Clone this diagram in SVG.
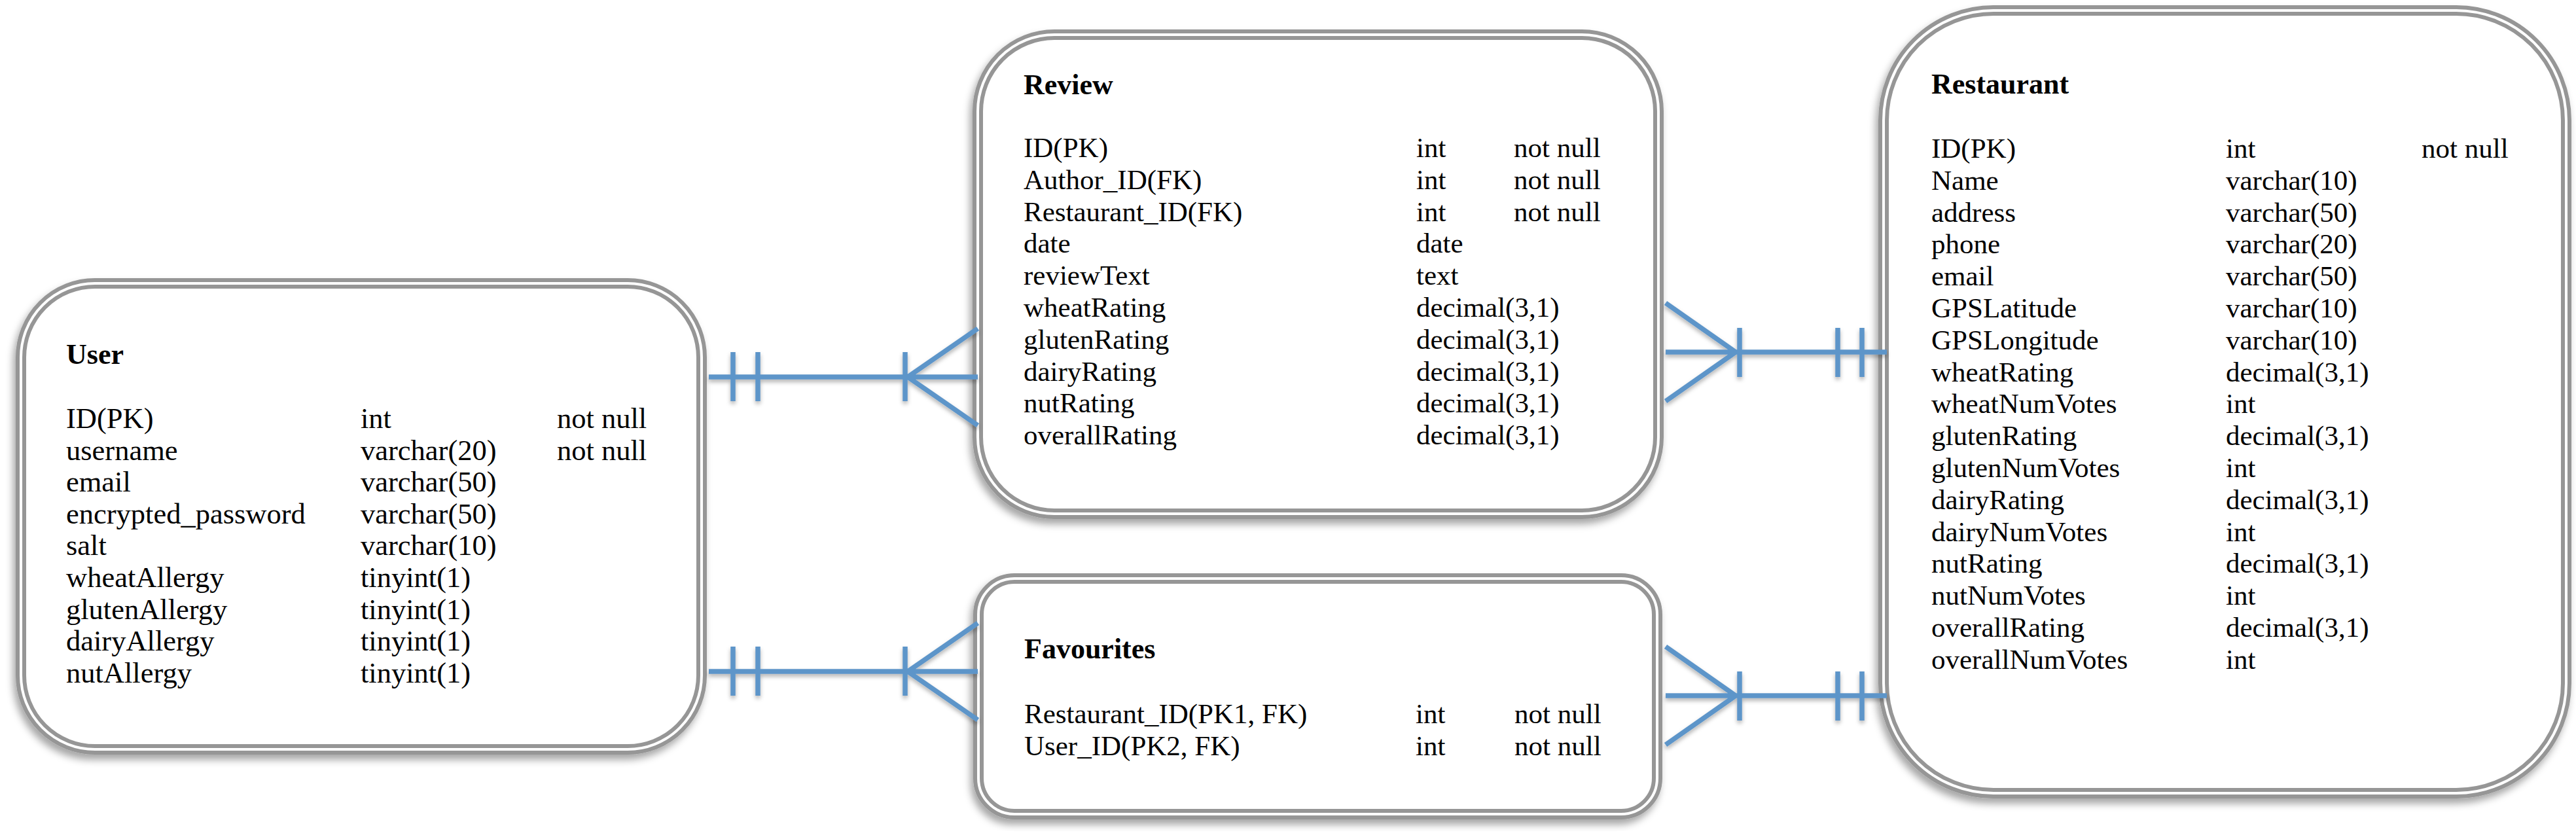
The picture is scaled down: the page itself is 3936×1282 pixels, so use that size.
<svg xmlns="http://www.w3.org/2000/svg" width="3936" height="1282" viewBox="0 0 3936 1282">
<defs>
<filter id="boxShadow" x="-5%" y="-5%" width="110%" height="112%">
<feDropShadow dx="-4" dy="8" stdDeviation="6" flood-color="#000" flood-opacity="0.35"/>
</filter>
<filter id="lineShadow" x="-5%" y="-20%" width="110%" height="140%">
<feDropShadow dx="0" dy="4" stdDeviation="3" flood-color="#000" flood-opacity="0.3"/>
</filter>
<style>
.box{fill:#ffffff;stroke:#969696;stroke-width:16;filter:url(#boxShadow)}
.gap{fill:none;stroke:#ffffff;stroke-width:4}
.t{font-family:"Liberation Serif","Times New Roman",serif;font-size:43px;fill:#000000}
.u{font-size:44.5px}
.h{font-weight:bold;font-size:44px}
.c{fill:none;stroke:#5d95c9;stroke-width:7.5;stroke-linecap:butt;stroke-linejoin:miter}
</style>
</defs>
<rect width="3936" height="1282" fill="#ffffff"/>

<g id="user">
<rect class="box" x="32" y="433" width="1040" height="712" rx="113"/>
<rect class="gap" x="32" y="433" width="1040" height="712" rx="113"/>
<text class="t h" x="101" y="556">User</text>
<text class="t u" x="101" y="654"><tspan x="101" y="654">ID(PK)</tspan><tspan x="101" y="702.6">username</tspan><tspan x="101" y="751.2">email</tspan><tspan x="101" y="799.8">encrypted_password</tspan><tspan x="101" y="848.4">salt</tspan><tspan x="101" y="897">wheatAllergy</tspan><tspan x="101" y="945.6">glutenAllergy</tspan><tspan x="101" y="994.2">dairyAllergy</tspan><tspan x="101" y="1042.8">nutAllergy</tspan></text>
<text class="t u" x="551" y="654"><tspan x="551" y="654">int</tspan><tspan x="551" y="702.6">varchar(20)</tspan><tspan x="551" y="751.2">varchar(50)</tspan><tspan x="551" y="799.8">varchar(50)</tspan><tspan x="551" y="848.4">varchar(10)</tspan><tspan x="551" y="897">tinyint(1)</tspan><tspan x="551" y="945.6">tinyint(1)</tspan><tspan x="551" y="994.2">tinyint(1)</tspan><tspan x="551" y="1042.8">tinyint(1)</tspan></text>
<text class="t u" x="851" y="654"><tspan x="851" y="654">not null</tspan><tspan x="851" y="702.6">not null</tspan></text>
</g>

<g id="review">
<rect class="box" x="1494" y="53" width="1040" height="732" rx="117"/>
<rect class="gap" x="1494" y="53" width="1040" height="732" rx="117"/>
<text class="t h" x="1564" y="144">Review</text>
<text class="t" x="1564" y="240"><tspan x="1564" y="240">ID(PK)</tspan><tspan x="1564" y="288.8">Author_ID(FK)</tspan><tspan x="1564" y="337.6">Restaurant_ID(FK)</tspan><tspan x="1564" y="386.4">date</tspan><tspan x="1564" y="435.2">reviewText</tspan><tspan x="1564" y="484">wheatRating</tspan><tspan x="1564" y="532.8">glutenRating</tspan><tspan x="1564" y="581.6">dairyRating</tspan><tspan x="1564" y="630.4">nutRating</tspan><tspan x="1564" y="679.2">overallRating</tspan></text>
<text class="t" x="2164" y="240"><tspan x="2164" y="240">int</tspan><tspan x="2164" y="288.8">int</tspan><tspan x="2164" y="337.6">int</tspan><tspan x="2164" y="386.4">date</tspan><tspan x="2164" y="435.2">text</tspan><tspan x="2164" y="484">decimal(3,1)</tspan><tspan x="2164" y="532.8">decimal(3,1)</tspan><tspan x="2164" y="581.6">decimal(3,1)</tspan><tspan x="2164" y="630.4">decimal(3,1)</tspan><tspan x="2164" y="679.2">decimal(3,1)</tspan></text>
<text class="t" x="2313" y="240"><tspan x="2313" y="240">not null</tspan><tspan x="2313" y="288.8">not null</tspan><tspan x="2313" y="337.6">not null</tspan></text>
</g>

<g id="favourites">
<rect class="box" x="1495" y="884" width="1037" height="360" rx="55"/>
<rect class="gap" x="1495" y="884" width="1037" height="360" rx="55"/>
<text class="t h" x="1565" y="1006">Favourites</text>
<text class="t" x="1565" y="1105"><tspan x="1565" y="1105">Restaurant_ID(PK1, FK)</tspan><tspan x="1565" y="1154">User_ID(PK2, FK)</tspan></text>
<text class="t" x="2163" y="1105"><tspan x="2163" y="1105">int</tspan><tspan x="2163" y="1154">int</tspan></text>
<text class="t" x="2314" y="1105"><tspan x="2314" y="1105">not null</tspan><tspan x="2314" y="1154">not null</tspan></text>
</g>

<g id="restaurant">
<rect class="box" x="2878" y="16" width="1043" height="1196" rx="168"/>
<rect class="gap" x="2878" y="16" width="1043" height="1196" rx="168"/>
<text class="t h" x="2951" y="143">Restaurant</text>
<text class="t" x="2951" y="241"><tspan x="2951" y="241">ID(PK)</tspan><tspan x="2951" y="289.8">Name</tspan><tspan x="2951" y="338.6">address</tspan><tspan x="2951" y="387.4">phone</tspan><tspan x="2951" y="436.2">email</tspan><tspan x="2951" y="485">GPSLatitude</tspan><tspan x="2951" y="533.8">GPSLongitude</tspan><tspan x="2951" y="582.6">wheatRating</tspan><tspan x="2951" y="631.4">wheatNumVotes</tspan><tspan x="2951" y="680.2">glutenRating</tspan><tspan x="2951" y="729">glutenNumVotes</tspan><tspan x="2951" y="777.8">dairyRating</tspan><tspan x="2951" y="826.6">dairyNumVotes</tspan><tspan x="2951" y="875.4">nutRating</tspan><tspan x="2951" y="924.2">nutNumVotes</tspan><tspan x="2951" y="973">overallRating</tspan><tspan x="2951" y="1021.8">overallNumVotes</tspan></text>
<text class="t" x="3401" y="241"><tspan x="3401" y="241">int</tspan><tspan x="3401" y="289.8">varchar(10)</tspan><tspan x="3401" y="338.6">varchar(50)</tspan><tspan x="3401" y="387.4">varchar(20)</tspan><tspan x="3401" y="436.2">varchar(50)</tspan><tspan x="3401" y="485">varchar(10)</tspan><tspan x="3401" y="533.8">varchar(10)</tspan><tspan x="3401" y="582.6">decimal(3,1)</tspan><tspan x="3401" y="631.4">int</tspan><tspan x="3401" y="680.2">decimal(3,1)</tspan><tspan x="3401" y="729">int</tspan><tspan x="3401" y="777.8">decimal(3,1)</tspan><tspan x="3401" y="826.6">int</tspan><tspan x="3401" y="875.4">decimal(3,1)</tspan><tspan x="3401" y="924.2">int</tspan><tspan x="3401" y="973">decimal(3,1)</tspan><tspan x="3401" y="1021.8">int</tspan></text>
<text class="t" x="3700" y="241">not null</text>
</g>

<g id="connectors" filter="url(#lineShadow)">
<g id="user-review">
<path class="c" d="M1083,576 H1494 M1120,538 V613 M1158,538 V613 M1383,538 V613 M1494,502 L1387,576 L1494,650"/>
</g>
<g id="user-favourites">
<path class="c" d="M1083,1026 H1494 M1120,988 V1063 M1158,988 V1063 M1383,988 V1063 M1494,952 L1387,1026 L1494,1100"/>
</g>
<g id="review-restaurant">
<path class="c" d="M2545,538 H2883 M2658,501 V576 M2808,501 V576 M2845,501 V576 M2545,463 L2652,538 L2545,613"/>
</g>
<g id="favourites-restaurant">
<path class="c" d="M2545,1063 H2883 M2658,1026 V1101 M2808,1026 V1101 M2845,1026 V1101 M2545,988 L2652,1063 L2545,1138"/>
</g>
</g>
</svg>
